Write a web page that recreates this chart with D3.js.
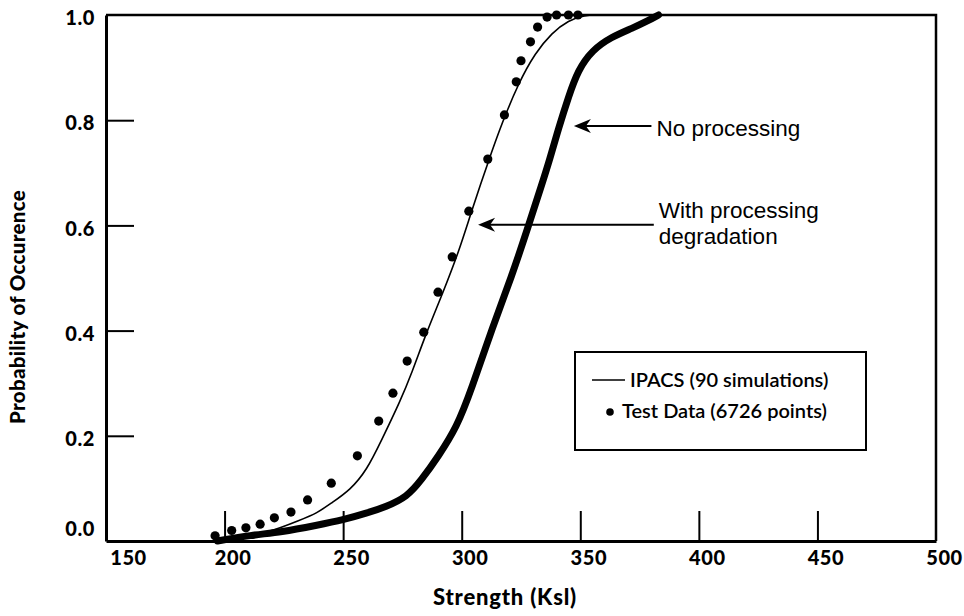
<!DOCTYPE html>
<html>
<head>
<meta charset="utf-8">
<script src="https://cdn.jsdelivr.net/npm/d3@7"></script>
<style>
  body { margin: 0; background: #fff; }
  svg { display: block; }
  .tick text { font-family: Lato, "DejaVu Sans", sans-serif; font-weight: 900; font-size: 20px; letter-spacing: 0.6px; fill: #000; }
</style>
</head>
<body>
<svg id="chart" width="964" height="616"></svg>
<script>
// Values
const xTicks = [150, 200, 250, 300, 350, 400, 450, 500];
const yTicks = [0.0, 0.2, 0.4, 0.6, 0.8, 1.0];

// Test data (dots)
const testX = [196, 203, 209, 215, 221, 228, 235, 245, 256, 265, 271, 277, 284, 290, 296, 303, 311, 318, 323, 325, 329, 332, 336, 340, 345, 349];
const testY = [0.01, 0.02, 0.025, 0.032, 0.044, 0.055, 0.078, 0.11, 0.162, 0.228, 0.281, 0.342, 0.397, 0.473, 0.54, 0.627, 0.726, 0.81, 0.873, 0.913, 0.949, 0.977, 0.996, 1.0, 1.0, 1.0];

// IPACS, with processing degradation (thin line)
const withX = [195, 205, 218, 232, 239, 245, 253, 260, 266, 274, 279, 285, 292, 299, 304, 311, 317, 324, 331, 338, 345, 352, 357];
const withY = [0.0, 0.005, 0.015, 0.04, 0.053, 0.072, 0.097, 0.135, 0.19, 0.265, 0.32, 0.395, 0.471, 0.553, 0.625, 0.719, 0.795, 0.871, 0.928, 0.966, 0.99, 1.0, 1.0];

// IPACS, no processing (thick line)
const noX = [197, 211, 224, 239, 250, 260, 268, 277, 283, 290, 298, 304, 313, 321, 328, 334, 337, 341, 345, 349, 355, 363, 372, 379, 383];
const noY = [0.0, 0.011, 0.017, 0.03, 0.04, 0.053, 0.065, 0.084, 0.116, 0.16, 0.217, 0.287, 0.407, 0.502, 0.597, 0.681, 0.724, 0.787, 0.844, 0.895, 0.933, 0.958, 0.975, 0.99, 1.0];

const svg = d3.select('#chart');
const x = d3.scaleLinear().domain([150, 500]).range([106, 936]);
const y = d3.scaleLinear().domain([0, 1]).range([541, 15]);

// x axis: ticks point up into the plot
const xAxis = svg.append('g')
    .attr('transform', `translate(0,${y(0)})`)
    .call(d3.axisBottom(x).tickValues(xTicks).tickFormat(d3.format('d'))
        .tickSizeInner(-30).tickSizeOuter(0).tickPadding(10));
xAxis.select('.domain').attr('stroke', '#000').attr('stroke-width', 3);
xAxis.selectAll('.tick line').attr('stroke', '#000').attr('stroke-width', 2)
    .filter(d => d === 150 || d === 500).remove();
xAxis.selectAll('.tick text').attr('dx', d => d === 150 ? 22 : 8);

// y axis: ticks point right
const yAxis = svg.append('g')
    .attr('transform', `translate(${x(150)},0)`)
    .call(d3.axisLeft(y).tickValues(yTicks).tickFormat(d3.format('.1f'))
        .tickSizeInner(-28).tickSizeOuter(0).tickPadding(11));
yAxis.select('.domain').attr('stroke', '#000').attr('stroke-width', 3);
yAxis.selectAll('.tick line').attr('stroke', '#000').attr('stroke-width', 2)
    .filter(d => d === 0 || d === 1).remove();
yAxis.selectAll('.tick text').attr('dy', d => d === 0 ? '-0.3em' : '0.48em');

// frame top and right
svg.append('path')
    .attr('d', `M${x(150)},${y(1)}H${x(500)}V${y(0)}`)
    .attr('fill', 'none').attr('stroke', '#000').attr('stroke-width', 2.5);

const line = d3.line().x(d => x(d[0])).y(d => y(d[1])).curve(d3.curveBasis);

svg.append('path')
    .datum(d3.zip(noX, noY))
    .attr('d', line)
    .attr('fill', 'none').attr('stroke', '#000').attr('stroke-width', 7)
    .attr('stroke-linecap', 'round');

svg.append('path')
    .datum(d3.zip(withX, withY))
    .attr('d', line)
    .attr('fill', 'none').attr('stroke', '#000').attr('stroke-width', 1.6);

svg.append('g').selectAll('circle')
    .data(d3.zip(testX, testY))
    .join('circle')
    .attr('cx', d => x(d[0]))
    .attr('cy', d => y(d[1]))
    .attr('r', 4.6)
    .attr('fill', '#000');

// annotations with arrows (anchors in data units)
const notes = [
    {tip: [347.3, 0.789], tail: 380, lines: ['No processing'], ty: 0.77},
    {tip: [306.9, 0.601], tail: 381, lines: ['With processing', 'degradation'], ty: 0.615}
];
notes.forEach(n => {
    const tx = x(n.tip[0]), ty = y(n.tip[1]);
    svg.append('line')
        .attr('x1', tx + 8).attr('y1', ty).attr('x2', x(n.tail)).attr('y2', ty)
        .attr('stroke', '#000').attr('stroke-width', 2);
    svg.append('path')
        .attr('d', `M${tx},${ty}L${tx + 17},${ty - 7}L${tx + 12},${ty}L${tx + 17},${ty + 7}Z`)
        .attr('fill', '#000');
    const t = svg.append('text')
        .attr('x', x(n.tail) + 5)
        .attr('y', y(n.ty))
        .attr('font-family', '"Liberation Sans", Arial, sans-serif')
        .attr('font-size', 22.5)
        .attr('fill', '#000');
    n.lines.forEach((s, i) => {
        t.append('tspan').attr('x', x(n.tail) + 5).attr('dy', i === 0 ? 0 : 26).text(s);
    });
});

// legend
const lg = svg.append('g');
lg.append('rect')
    .attr('x', 575).attr('y', 352).attr('width', 291).attr('height', 98)
    .attr('fill', '#fff').attr('stroke', '#000').attr('stroke-width', 2);
lg.append('line')
    .attr('x1', 592).attr('x2', 625).attr('y1', 380).attr('y2', 380)
    .attr('stroke', '#000').attr('stroke-width', 1.6);
lg.append('circle').attr('cx', 610).attr('cy', 412).attr('r', 3.8).attr('fill', '#000');
lg.selectAll('text')
    .data(['IPACS (90 simulations)', 'Test Data (6726 points)'])
    .join('text')
    .attr('x', (d, i) => i === 0 ? 630 : 622)
    .attr('y', (d, i) => i === 0 ? 387 : 418)
    .attr('font-family', 'Lato, "DejaVu Sans", sans-serif')
    .attr('font-weight', 600)
    .attr('font-size', 20)
    .text(d => d);

// axis titles
svg.append('text')
    .attr('x', 505).attr('y', 605)
    .attr('text-anchor', 'middle')
    .attr('font-family', 'Lato, "DejaVu Sans", sans-serif')
    .attr('font-weight', 900).attr('font-size', 22)
    .attr('letter-spacing', 0.8)
    .text('Strength (Ksl)');

svg.append('text')
    .attr('transform', 'translate(25,307) rotate(-90)')
    .attr('text-anchor', 'middle')
    .attr('font-family', 'Lato, "DejaVu Sans", sans-serif')
    .attr('font-weight', 900).attr('font-size', 20.5)
    .attr('letter-spacing', 0.3)
    .text('Probability of Occurence');
</script>
</body>
</html>
